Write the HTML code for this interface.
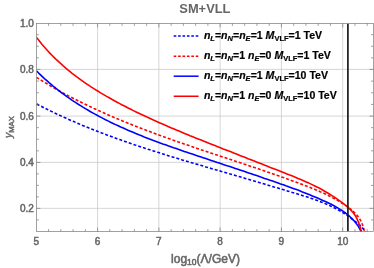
<!DOCTYPE html>
<html><head><meta charset="utf-8"><title>SM+VLL</title>
<style>html,body{margin:0;padding:0;background:#fff;}body{width:374px;height:268px;overflow:hidden;}</style>
</head><body>
<svg width="374" height="268" viewBox="0 0 374 268" style="display:block;will-change:transform">
<rect width="374" height="268" fill="#fff"/>
<defs><clipPath id="c"><rect x="36.5" y="23.5" width="336.9" height="208.0"/></clipPath></defs>
<path d="M97.58,23.5V231.5M158.86,23.5V231.5M220.14,23.5V231.5M281.42,23.5V231.5M342.70,23.5V231.5M36.5,208.35H373.4M36.5,162.40H373.4M36.5,116.10H373.4M36.5,69.40H373.4" stroke="#c4c4c4" stroke-width="0.7" fill="none"/>
<g clip-path="url(#c)" fill="none" stroke-width="1.6" stroke-linejoin="round">
<path d="M36.5,77.4 L38.9,78.9 L41.3,80.4 L43.7,81.9 L46.2,83.3 L48.6,84.8 L51.1,86.2 L53.6,87.7 L56.0,89.1 L58.5,90.5 L61.0,91.8 L63.5,93.2 L66.0,94.5 L68.5,95.9 L71.0,97.2 L73.5,98.5 L76.1,99.8 L78.6,101.1 L81.1,102.3 L83.7,103.6 L86.2,104.8 L88.8,106.0 L91.4,107.3 L93.9,108.5 L96.5,109.6 L99.1,110.8 L101.7,112.0 L104.2,113.1 L106.8,114.3 L109.4,115.4 L112.0,116.6 L114.6,117.7 L117.3,118.8 L119.9,119.9 L122.5,120.9 L125.1,122.0 L127.7,123.1 L130.4,124.1 L133.0,125.2 L135.6,126.2 L138.3,127.3 L140.9,128.3 L143.6,129.3 L146.2,130.3 L148.9,131.3 L151.5,132.3 L154.2,133.3 L156.9,134.3 L159.5,135.3 L162.2,136.2 L164.9,137.2 L167.6,138.2 L170.2,139.1 L172.9,140.1 L175.6,141.0 L178.3,141.9 L181.0,142.9 L183.6,143.8 L186.3,144.7 L189.0,145.6 L191.7,146.6 L194.4,147.5 L197.1,148.4 L199.8,149.3 L202.5,150.2 L205.2,151.1 L207.9,152.0 L210.6,152.9 L213.3,153.8 L216.0,154.7 L218.7,155.6 L221.4,156.5 L224.1,157.4 L226.8,158.3 L229.5,159.2 L232.2,160.1 L234.8,161.0 L237.5,161.9 L240.2,162.8 L242.9,163.7 L245.6,164.6 L248.3,165.5 L251.0,166.4 L253.7,167.3 L256.4,168.2 L259.1,169.1 L261.8,170.1 L264.5,171.0 L267.1,171.9 L269.8,172.8 L272.5,173.7 L275.2,174.7 L277.8,175.6 L280.5,176.6 L283.2,177.5 L285.9,178.4 L288.5,179.4 L291.2,180.4 L293.8,181.3 L296.5,182.3 L299.2,183.3 L301.8,184.3 L304.4,185.3 L307.1,186.3 L309.7,187.3 L312.3,188.4 L314.9,189.4 L317.6,190.5 L320.1,191.7 L322.7,192.8 L325.3,194.0 L327.8,195.3 L330.4,196.5 L332.9,197.9 L335.4,199.2 L337.9,200.6 L340.3,202.1 L342.8,203.6 L345.2,205.2 L347.6,206.8 L348.0,207.1 L348.4,207.4 L348.7,207.7 L349.1,208.0 L349.5,208.3 L349.9,208.6 L350.3,208.9 L350.6,209.2 L351.0,209.5 L351.4,209.8 L351.8,210.1 L352.1,210.4 L352.5,210.7 L352.8,211.0 L353.2,211.3 L353.5,211.7 L353.9,212.0 L354.2,212.3 L354.6,212.6 L354.9,213.0 L355.2,213.3 L355.5,213.7 L355.9,214.0 L356.2,214.3 L356.5,214.7 L356.8,215.0 L357.1,215.4 L357.4,215.8 L357.7,216.1 L358.0,216.5 L358.3,216.9 L358.5,217.2 L358.8,217.6 L359.1,218.0 L359.3,218.4 L359.6,218.8 L359.8,219.2 L360.1,219.6 L360.3,220.0 L360.5,220.4 L360.8,220.8 L361.0,221.2 L361.2,221.6 L361.4,222.1 L361.6,222.5 L361.8,222.9 L362.0,223.4 L362.1,223.8 L362.3,224.3 L362.5,224.7 L362.6,225.2 L362.8,225.6 L362.9,226.1 L363.1,226.5 L363.2,227.0 L363.4,227.4 L363.5,227.9 L363.6,228.4 L363.8,228.8 L363.9,229.3 L364.0,229.8 L364.2,230.2 L364.3,230.7 L364.4,231.2 L364.5,231.7 L364.7,232.1 L364.8,232.6 L364.9,233.1 L365.0,233.5 L365.1,234.0 L365.3,234.4 L365.4,234.9 L365.5,235.3 L365.7,235.8 L365.8,236.3 L365.9,236.7 L366.1,237.1 L366.2,237.6 L366.4,238.0" stroke="#ff0000" stroke-dasharray="3 2"/>
<path d="M36.7,104.0 L39.1,105.3 L41.6,106.5 L44.0,107.8 L46.5,109.0 L48.9,110.2 L51.4,111.4 L53.9,112.6 L56.3,113.8 L58.8,114.9 L61.3,116.1 L63.8,117.2 L66.3,118.3 L68.8,119.5 L71.3,120.6 L73.8,121.6 L76.3,122.7 L78.8,123.8 L81.4,124.9 L83.9,125.9 L86.4,126.9 L89.0,128.0 L91.5,129.0 L94.0,130.0 L96.6,131.0 L99.1,132.0 L101.7,133.0 L104.3,133.9 L106.8,134.9 L109.4,135.9 L112.0,136.8 L114.5,137.7 L117.1,138.7 L119.7,139.6 L122.3,140.5 L124.8,141.4 L127.4,142.3 L130.0,143.2 L132.6,144.1 L135.2,145.0 L137.8,145.8 L140.4,146.7 L143.0,147.6 L145.6,148.4 L148.2,149.3 L150.8,150.1 L153.4,150.9 L156.0,151.8 L158.6,152.6 L161.2,153.4 L163.9,154.2 L166.5,155.1 L169.1,155.9 L171.7,156.7 L174.3,157.5 L177.0,158.3 L179.6,159.1 L182.2,159.9 L184.8,160.6 L187.5,161.4 L190.1,162.2 L192.7,163.0 L195.3,163.8 L198.0,164.5 L200.6,165.3 L203.2,166.1 L205.9,166.9 L208.5,167.6 L211.1,168.4 L213.8,169.2 L216.4,169.9 L219.0,170.7 L221.6,171.5 L224.3,172.2 L226.9,173.0 L229.5,173.8 L232.2,174.5 L234.8,175.3 L237.4,176.1 L240.0,176.8 L242.7,177.6 L245.3,178.4 L247.9,179.2 L250.5,179.9 L253.2,180.7 L255.8,181.5 L258.4,182.3 L261.0,183.0 L263.6,183.8 L266.3,184.6 L268.9,185.4 L271.5,186.2 L274.1,187.0 L276.7,187.7 L279.4,188.5 L282.0,189.3 L284.6,190.1 L287.2,190.9 L289.8,191.7 L292.5,192.5 L295.1,193.2 L297.7,194.0 L300.3,194.8 L302.9,195.7 L305.5,196.5 L308.2,197.3 L310.7,198.2 L313.3,199.1 L315.9,200.0 L318.5,201.0 L321.0,201.9 L323.6,203.0 L326.1,204.0 L328.6,205.1 L331.1,206.3 L333.6,207.5 L336.0,208.7 L338.4,210.0 L340.8,211.4 L343.2,212.8 L343.5,213.1 L343.9,213.3 L344.3,213.6 L344.7,213.8 L345.1,214.1 L345.5,214.3 L345.9,214.6 L346.2,214.8 L346.6,215.1 L347.0,215.4 L347.4,215.6 L347.7,215.9 L348.1,216.2 L348.5,216.4 L348.9,216.7 L349.2,217.0 L349.6,217.3 L350.0,217.5 L350.3,217.8 L350.7,218.1 L351.1,218.4 L351.4,218.6 L351.8,218.9 L352.1,219.2 L352.5,219.5 L352.9,219.8 L353.2,220.0 L353.6,220.3 L354.0,220.6 L354.3,220.9 L354.7,221.1 L355.1,221.4 L355.4,221.7 L355.8,222.0 L356.2,222.2 L356.5,222.5 L356.9,222.8 L357.3,223.1 L357.6,223.3 L358.0,223.6 L358.4,223.9 L358.7,224.2 L359.1,224.5 L359.4,224.8 L359.8,225.1 L360.1,225.4 L360.4,225.7 L360.8,226.0 L361.1,226.3 L361.4,226.6 L361.7,227.0 L362.0,227.3 L362.3,227.7 L362.6,228.0 L362.9,228.4 L363.1,228.7 L363.4,229.1 L363.7,229.5 L364.0,229.8 L364.2,230.2 L364.5,230.6 L364.7,231.0 L365.0,231.3 L365.2,231.7 L365.5,232.1 L365.7,232.5 L366.0,232.9 L366.2,233.3 L366.5,233.7 L366.7,234.1 L367.0,234.5 L367.2,234.8 L367.5,235.2 L367.7,235.6 L368.0,236.0 L368.2,236.4 L368.5,236.8 L368.7,237.1 L369.0,237.5" stroke="#0000ff" stroke-dasharray="3 2"/>
<path d="M36.4,70.8 L38.4,72.8 L40.5,74.8 L42.6,76.8 L44.7,78.8 L46.9,80.7 L49.0,82.6 L51.2,84.4 L53.4,86.3 L55.6,88.0 L57.8,89.8 L60.0,91.5 L62.3,93.3 L64.6,94.9 L66.9,96.6 L69.2,98.2 L71.5,99.8 L73.8,101.4 L76.2,102.9 L78.6,104.5 L81.0,105.9 L83.3,107.4 L85.8,108.9 L88.2,110.3 L90.6,111.7 L93.1,113.1 L95.5,114.4 L98.0,115.8 L100.5,117.1 L103.0,118.4 L105.5,119.7 L108.0,120.9 L110.5,122.2 L113.1,123.4 L115.6,124.6 L118.2,125.8 L120.7,127.0 L123.3,128.1 L125.9,129.3 L128.5,130.4 L131.1,131.5 L133.7,132.6 L136.3,133.7 L138.9,134.8 L141.6,135.8 L144.2,136.9 L146.8,137.9 L149.5,138.9 L152.1,139.9 L154.8,140.9 L157.5,141.9 L160.1,142.9 L162.8,143.9 L165.5,144.8 L168.1,145.8 L170.8,146.7 L173.5,147.7 L176.2,148.6 L178.9,149.5 L181.6,150.5 L184.2,151.4 L186.9,152.3 L189.6,153.2 L192.3,154.1 L195.0,155.0 L197.7,155.9 L200.4,156.8 L203.1,157.7 L205.8,158.6 L208.5,159.5 L211.1,160.4 L213.8,161.3 L216.5,162.2 L219.2,163.1 L221.9,164.0 L224.6,164.9 L227.2,165.8 L229.9,166.6 L232.6,167.5 L235.3,168.4 L237.9,169.3 L240.6,170.2 L243.3,171.1 L246.0,172.0 L248.6,172.9 L251.3,173.8 L254.0,174.7 L256.6,175.6 L259.3,176.5 L262.0,177.4 L264.6,178.4 L267.3,179.3 L270.0,180.2 L272.6,181.1 L275.3,182.0 L278.0,182.9 L280.6,183.9 L283.3,184.8 L285.9,185.8 L288.6,186.7 L291.2,187.7 L293.9,188.7 L296.5,189.6 L299.2,190.6 L301.8,191.7 L304.4,192.7 L307.1,193.7 L309.7,194.8 L312.3,195.9 L315.0,197.0 L317.6,198.1 L320.2,199.2 L322.8,200.4 L325.4,201.6 L328.0,202.8 L330.6,204.0 L333.1,205.3 L335.6,206.7 L338.1,208.1 L340.5,209.6 L340.9,209.8 L341.3,210.1 L341.7,210.3 L342.1,210.6 L342.5,210.9 L342.9,211.1 L343.3,211.4 L343.7,211.7 L344.0,211.9 L344.4,212.2 L344.8,212.5 L345.2,212.8 L345.6,213.0 L345.9,213.3 L346.3,213.6 L346.7,213.9 L347.0,214.2 L347.4,214.5 L347.8,214.8 L348.1,215.1 L348.5,215.4 L348.9,215.7 L349.2,216.0 L349.6,216.3 L349.9,216.6 L350.3,216.9 L350.6,217.3 L350.9,217.6 L351.3,217.9 L351.6,218.2 L351.9,218.6 L352.3,218.9 L352.6,219.2 L352.9,219.6 L353.3,219.9 L353.6,220.3 L353.9,220.6 L354.2,221.0 L354.5,221.3 L354.8,221.7 L355.1,222.0 L355.4,222.4 L355.7,222.8 L356.0,223.1 L356.3,223.5 L356.6,223.9 L356.9,224.3 L357.1,224.7 L357.4,225.0 L357.7,225.4 L358.0,225.8 L358.2,226.2 L358.5,226.6 L358.7,227.0 L358.9,227.4 L359.2,227.9 L359.4,228.3 L359.6,228.7 L359.9,229.1 L360.1,229.5 L360.3,230.0 L360.5,230.4 L360.7,230.8 L360.8,231.3 L361.0,231.7 L361.2,232.2 L361.3,232.6 L361.5,233.1 L361.7,233.5 L361.8,234.0 L362.0,234.4 L362.1,234.9 L362.3,235.3 L362.4,235.8 L362.6,236.2 L362.7,236.7 L362.9,237.1 L363.0,237.6 L363.2,238.0" stroke="#0000ff"/>
<path d="M36.5,37.4 L38.4,39.8 L40.2,42.1 L42.1,44.5 L44.1,46.7 L46.1,49.0 L48.1,51.2 L50.1,53.4 L52.2,55.5 L54.3,57.6 L56.4,59.7 L58.6,61.7 L60.8,63.7 L63.0,65.7 L65.2,67.6 L67.5,69.6 L69.8,71.4 L72.1,73.3 L74.5,75.1 L76.8,76.9 L79.2,78.6 L81.6,80.4 L84.0,82.1 L86.5,83.8 L88.9,85.4 L91.4,87.1 L93.9,88.7 L96.4,90.3 L99.0,91.8 L101.5,93.4 L104.1,94.9 L106.6,96.4 L109.2,97.8 L111.8,99.3 L114.4,100.7 L117.1,102.2 L119.7,103.6 L122.3,105.0 L125.0,106.3 L127.6,107.7 L130.3,109.0 L132.9,110.4 L135.6,111.7 L138.3,113.0 L141.0,114.3 L143.7,115.5 L146.4,116.8 L149.1,118.0 L151.8,119.3 L154.5,120.5 L157.2,121.7 L159.9,122.9 L162.6,124.1 L165.4,125.3 L168.1,126.5 L170.8,127.7 L173.6,128.8 L176.3,130.0 L179.0,131.1 L181.8,132.3 L184.5,133.4 L187.3,134.5 L190.0,135.7 L192.8,136.8 L195.6,137.9 L198.3,139.0 L201.1,140.1 L203.9,141.2 L206.6,142.3 L209.4,143.4 L212.1,144.5 L214.9,145.6 L217.7,146.7 L220.5,147.8 L223.2,148.9 L226.0,149.9 L228.8,151.0 L231.5,152.1 L234.3,153.2 L237.1,154.3 L239.8,155.4 L242.6,156.5 L245.4,157.6 L248.1,158.7 L250.9,159.7 L253.7,160.8 L256.5,161.9 L259.2,163.0 L262.0,164.1 L264.8,165.2 L267.5,166.3 L270.3,167.4 L273.1,168.4 L275.9,169.5 L278.6,170.6 L281.4,171.7 L284.2,172.8 L287.0,173.9 L289.7,175.0 L292.5,176.1 L295.3,177.2 L298.0,178.4 L300.8,179.5 L303.5,180.7 L306.2,181.9 L308.9,183.1 L311.6,184.4 L314.3,185.7 L316.9,187.0 L319.6,188.3 L322.2,189.7 L324.7,191.2 L327.3,192.7 L329.8,194.2 L332.3,195.8 L334.8,197.4 L337.3,199.1 L339.7,200.8 L342.1,202.6 L344.5,204.4 L344.9,204.8 L345.3,205.1 L345.7,205.4 L346.1,205.7 L346.5,206.0 L346.8,206.3 L347.2,206.7 L347.6,207.0 L348.0,207.3 L348.4,207.7 L348.7,208.0 L349.1,208.4 L349.5,208.7 L349.8,209.0 L350.2,209.4 L350.5,209.7 L350.9,210.1 L351.2,210.5 L351.6,210.8 L351.9,211.2 L352.2,211.6 L352.5,211.9 L352.9,212.3 L353.2,212.7 L353.5,213.1 L353.8,213.5 L354.1,213.9 L354.3,214.3 L354.6,214.7 L354.9,215.1 L355.2,215.5 L355.4,215.9 L355.7,216.3 L355.9,216.8 L356.2,217.2 L356.4,217.6 L356.6,218.1 L356.8,218.5 L357.1,219.0 L357.3,219.4 L357.5,219.9 L357.7,220.3 L357.9,220.8 L358.1,221.2 L358.3,221.7 L358.5,222.1 L358.6,222.6 L358.8,223.1 L359.0,223.6 L359.1,224.0 L359.3,224.5 L359.5,225.0 L359.6,225.5 L359.8,225.9 L359.9,226.4 L360.1,226.9 L360.2,227.4 L360.4,227.9 L360.5,228.3 L360.6,228.8 L360.8,229.3 L360.9,229.8 L361.0,230.3 L361.2,230.8 L361.3,231.3 L361.4,231.7 L361.5,232.2 L361.7,232.7 L361.8,233.2 L361.9,233.7 L362.0,234.2 L362.1,234.7 L362.3,235.1 L362.4,235.6 L362.5,236.1 L362.6,236.6 L362.7,237.1 L362.9,237.5 L363.0,238.0" stroke="#ff0000"/>
<path d="M347.9,23.5V231.5" stroke="#1a1a1a" stroke-width="1.7"/>
</g>
<path d="M48.56,231.5v-2.4M48.56,23.5v2.4M60.81,231.5v-2.4M60.81,23.5v2.4M73.07,231.5v-2.4M73.07,23.5v2.4M85.32,231.5v-2.4M85.32,23.5v2.4M97.58,231.5v-3.9M97.58,23.5v3.9M109.84,231.5v-2.4M109.84,23.5v2.4M122.09,231.5v-2.4M122.09,23.5v2.4M134.35,231.5v-2.4M134.35,23.5v2.4M146.60,231.5v-2.4M146.60,23.5v2.4M158.86,231.5v-3.9M158.86,23.5v3.9M171.12,231.5v-2.4M171.12,23.5v2.4M183.37,231.5v-2.4M183.37,23.5v2.4M195.63,231.5v-2.4M195.63,23.5v2.4M207.88,231.5v-2.4M207.88,23.5v2.4M220.14,231.5v-3.9M220.14,23.5v3.9M232.40,231.5v-2.4M232.40,23.5v2.4M244.65,231.5v-2.4M244.65,23.5v2.4M256.91,231.5v-2.4M256.91,23.5v2.4M269.16,231.5v-2.4M269.16,23.5v2.4M281.42,231.5v-3.9M281.42,23.5v3.9M293.68,231.5v-2.4M293.68,23.5v2.4M305.93,231.5v-2.4M305.93,23.5v2.4M318.19,231.5v-2.4M318.19,23.5v2.4M330.44,231.5v-2.4M330.44,23.5v2.4M342.70,231.5v-3.9M342.70,23.5v3.9M354.96,231.5v-2.4M354.96,23.5v2.4M367.21,231.5v-2.4M367.21,23.5v2.4M36.5,219.92h2.4M373.4,219.92h-2.4M36.5,208.35h3.9M373.4,208.35h-3.9M36.5,196.86h2.4M373.4,196.86h-2.4M36.5,185.38h2.4M373.4,185.38h-2.4M36.5,173.89h2.4M373.4,173.89h-2.4M36.5,162.40h3.9M373.4,162.40h-3.9M36.5,150.83h2.4M373.4,150.83h-2.4M36.5,139.25h2.4M373.4,139.25h-2.4M36.5,127.68h2.4M373.4,127.68h-2.4M36.5,116.10h3.9M373.4,116.10h-3.9M36.5,104.42h2.4M373.4,104.42h-2.4M36.5,92.75h2.4M373.4,92.75h-2.4M36.5,81.07h2.4M373.4,81.07h-2.4M36.5,69.40h3.9M373.4,69.40h-3.9M36.5,57.82h2.4M373.4,57.82h-2.4M36.5,46.25h2.4M373.4,46.25h-2.4M36.5,34.67h2.4M373.4,34.67h-2.4" stroke="#707070" stroke-width="0.65" fill="none"/>
<rect x="36.5" y="23.5" width="336.9" height="208.0" fill="none" stroke="#707070" stroke-width="0.65"/>
<g font-family="Liberation Sans, Arial, Helvetica, sans-serif" font-size="10" fill="#666" stroke="#666" stroke-width="0.5">
<text x="36.3" y="245.0" text-anchor="middle">5</text>
<text x="97.6" y="245.0" text-anchor="middle">6</text>
<text x="158.9" y="245.0" text-anchor="middle">7</text>
<text x="220.1" y="245.0" text-anchor="middle">8</text>
<text x="281.4" y="245.0" text-anchor="middle">9</text>
<text x="342.7" y="245.0" text-anchor="middle">10</text>
<text x="33.9" y="212.3" text-anchor="end">0.2</text>
<text x="33.9" y="166.4" text-anchor="end">0.4</text>
<text x="33.9" y="120.1" text-anchor="end">0.6</text>
<text x="33.9" y="73.4" text-anchor="end">0.8</text>
<text x="33.9" y="27.1" text-anchor="end">1.0</text>
</g>
<text font-family="Liberation Sans, Arial, Helvetica, sans-serif" font-size="12.9" font-weight="bold" fill="#666" x="204.9" y="12.6" text-anchor="middle">SM+VLL</text>
<text font-family="Liberation Sans, Arial, Helvetica, sans-serif" font-size="12" fill="#666" stroke="#666" stroke-width="0.55" x="205.5" y="263" text-anchor="middle">log<tspan font-size="8.5" dy="2.2">10</tspan><tspan dy="-2.2">(Λ/GeV)</tspan></text>
<text font-family="Liberation Sans, Arial, Helvetica, sans-serif" font-size="11.2" fill="#666" stroke="#666" stroke-width="0.45" transform="translate(11.7,127.1) rotate(-90)" text-anchor="middle"><tspan font-style="italic" font-size="10.6">y</tspan><tspan font-size="7.7" dy="2.7">MAX</tspan></text>
<path d="M173.7,36.10H198.6" stroke="#0000ff" stroke-width="1.5" stroke-dasharray="2.6 1.8" fill="none"/>
<text font-family="Liberation Sans, Arial, Helvetica, sans-serif" font-size="10.55" font-weight="bold" fill="#000" stroke="#000" stroke-width="0.2" x="203.9" y="39.00" xml:space="preserve"><tspan font-style="italic">n</tspan><tspan font-size="7.5" dy="2.2" font-style="italic">L</tspan><tspan dy="-2.2">=</tspan><tspan font-style="italic">n</tspan><tspan font-size="7.5" dy="2.2" font-style="italic">N</tspan><tspan dy="-2.2">=</tspan><tspan font-style="italic">n</tspan><tspan font-size="7.5" dy="2.2" font-style="italic">E</tspan><tspan dy="-2.2">=1 </tspan><tspan font-style="italic">M</tspan><tspan font-size="7.5" dy="2.2">VLF</tspan><tspan dy="-2.2">=1 TeV</tspan></text>
<path d="M173.7,56.15H198.6" stroke="#ff0000" stroke-width="1.5" stroke-dasharray="2.6 1.8" fill="none"/>
<text font-family="Liberation Sans, Arial, Helvetica, sans-serif" font-size="10.55" font-weight="bold" fill="#000" stroke="#000" stroke-width="0.2" x="203.9" y="59.05" xml:space="preserve"><tspan font-style="italic">n</tspan><tspan font-size="7.5" dy="2.2" font-style="italic">L</tspan><tspan dy="-2.2">=</tspan><tspan font-style="italic">n</tspan><tspan font-size="7.5" dy="2.2" font-style="italic">N</tspan><tspan dy="-2.2">=1 </tspan><tspan font-style="italic">n</tspan><tspan font-size="7.5" dy="2.2" font-style="italic">E</tspan><tspan dy="-2.2">=0 </tspan><tspan font-style="italic">M</tspan><tspan font-size="7.5" dy="2.2">VLF</tspan><tspan dy="-2.2">=1 TeV</tspan></text>
<path d="M173.7,76.20H198.6" stroke="#0000ff" stroke-width="1.5" fill="none"/>
<text font-family="Liberation Sans, Arial, Helvetica, sans-serif" font-size="10.55" font-weight="bold" fill="#000" stroke="#000" stroke-width="0.2" x="203.9" y="79.10" xml:space="preserve"><tspan font-style="italic">n</tspan><tspan font-size="7.5" dy="2.2" font-style="italic">L</tspan><tspan dy="-2.2">=</tspan><tspan font-style="italic">n</tspan><tspan font-size="7.5" dy="2.2" font-style="italic">N</tspan><tspan dy="-2.2">=</tspan><tspan font-style="italic">n</tspan><tspan font-size="7.5" dy="2.2" font-style="italic">E</tspan><tspan dy="-2.2">=1 </tspan><tspan font-style="italic">M</tspan><tspan font-size="7.5" dy="2.2">VLF</tspan><tspan dy="-2.2">=10 TeV</tspan></text>
<path d="M173.7,96.25H198.6" stroke="#ff0000" stroke-width="1.5" fill="none"/>
<text font-family="Liberation Sans, Arial, Helvetica, sans-serif" font-size="10.55" font-weight="bold" fill="#000" stroke="#000" stroke-width="0.2" x="203.9" y="99.15" xml:space="preserve"><tspan font-style="italic">n</tspan><tspan font-size="7.5" dy="2.2" font-style="italic">L</tspan><tspan dy="-2.2">=</tspan><tspan font-style="italic">n</tspan><tspan font-size="7.5" dy="2.2" font-style="italic">N</tspan><tspan dy="-2.2">=1 </tspan><tspan font-style="italic">n</tspan><tspan font-size="7.5" dy="2.2" font-style="italic">E</tspan><tspan dy="-2.2">=0 </tspan><tspan font-style="italic">M</tspan><tspan font-size="7.5" dy="2.2">VLF</tspan><tspan dy="-2.2">=10 TeV</tspan></text>
</svg>
</body></html>
